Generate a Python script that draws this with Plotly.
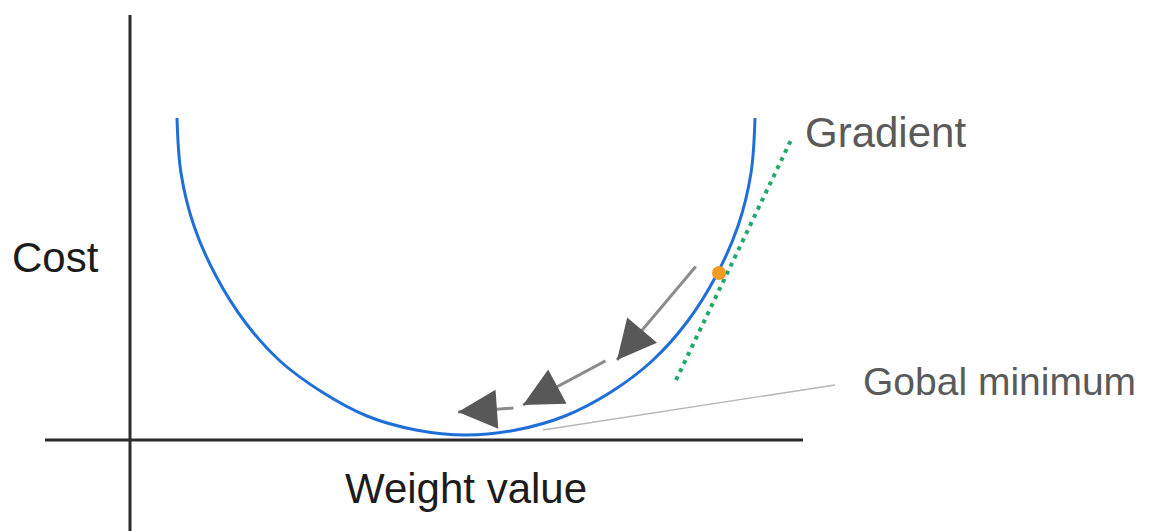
import plotly.graph_objects as go
import math

# Cost curve (weight value, cost)
curve_w = [47, 51, 64, 86, 115, 150, 192, 237, 286, 336, 386, 435, 481, 522, 557, 586, 608, 621, 625]
curve_c = [322, 267, 214, 164, 118, 79, 48, 24, 10, 5, 10, 24, 48, 79, 118, 164, 214, 267, 322]

# Current point and tangent (gradient)
point_w = [589]
point_c = [167]
grad_w = [546, 662]
grad_c = [60, 302]

# Descent steps: (tail, tip) pairs
step_tail_w = [567, 477, 385]
step_tail_c = [175, 80, 32]
step_tip_w = [487, 393, 328]
step_tip_c = [80, 35, 28]

# Leader line for the minimum label
leader_w = [413, 705]
leader_c = [10, 55]

labels = {"cost": "Cost", "weight": "Weight value", "grad": "Gradient", "min": "Gobal minimum"}

FONT = "Liberation Sans, Arial, sans-serif"

fig = go.Figure()

fig.add_trace(go.Scatter(x=leader_w, y=leader_c, mode="lines",
                         line=dict(color="#b5b5b5", width=1.3), hoverinfo="skip"))
fig.add_trace(go.Scatter(x=grad_w, y=grad_c, mode="lines",
                         line=dict(color="#1ea86a", width=4, dash="4px,5px"), hoverinfo="skip"))
fig.add_trace(go.Scatter(x=curve_w, y=curve_c, mode="lines",
                         line=dict(color="#1f6fd8", width=3, shape="spline", smoothing=1.0),
                         hoverinfo="skip"))
fig.add_trace(go.Scatter(x=point_w, y=point_c, mode="markers",
                         marker=dict(color="#f29a22", size=14), hoverinfo="skip"))

# axes lines
fig.add_shape(type="line", x0=-85, x1=673, y0=0, y1=0, line=dict(color="#2b2b2b", width=3))
fig.add_shape(type="line", x0=0, x1=0, y0=-100, y1=425, line=dict(color="#2b2b2b", width=3))

annotations = []
for tw, tc, hw, hc in zip(step_tail_w, step_tail_c, step_tip_w, step_tip_c):
    # shaft
    annotations.append(dict(x=hw, y=hc, ax=tw, ay=tc, xref="x", yref="y", axref="x", ayref="y",
                            text="", showarrow=True, arrowhead=0, arrowwidth=3,
                            arrowcolor="#8c8c8c"))
    # head
    d = math.hypot(tw - hw, tc - hc)
    ux, uy = (tw - hw) / d, (tc - hc) / d
    annotations.append(dict(x=hw, y=hc, ax=hw + ux * 22, ay=hc + uy * 22,
                            xref="x", yref="y", axref="x", ayref="y",
                            text="", showarrow=True, arrowhead=2, arrowwidth=3, arrowsize=2.6,
                            arrowcolor="#585858"))

annotations += [
    dict(x=-75, y=183, xref="x", yref="y", text=labels["cost"], showarrow=False,
         font=dict(family=FONT, size=42, color="#1c1c1c"), xanchor="center", yanchor="middle"),
    dict(x=336, y=-48, xref="x", yref="y", text=labels["weight"], showarrow=False,
         font=dict(family=FONT, size=42, color="#1c1c1c"), xanchor="center", yanchor="middle"),
    dict(x=673, y=308, xref="x", yref="y", text=labels["grad"], showarrow=False,
         font=dict(family=FONT, size=42, color="#5a5a5a"), xanchor="left", yanchor="middle"),
    dict(x=731, y=59, xref="x", yref="y", text=labels["min"], showarrow=False,
         font=dict(family=FONT, size=39, color="#5a5a5a"), xanchor="left", yanchor="middle"),
]

fig.update_layout(
    width=1152, height=531,
    margin=dict(l=0, r=0, t=0, b=0),
    paper_bgcolor="white", plot_bgcolor="white",
    showlegend=False,
    xaxis=dict(range=[-122, 1030], visible=False, fixedrange=True),
    yaxis=dict(range=[-99, 432], visible=False, fixedrange=True),
    annotations=annotations,
)

fig.write_html("out.html")
